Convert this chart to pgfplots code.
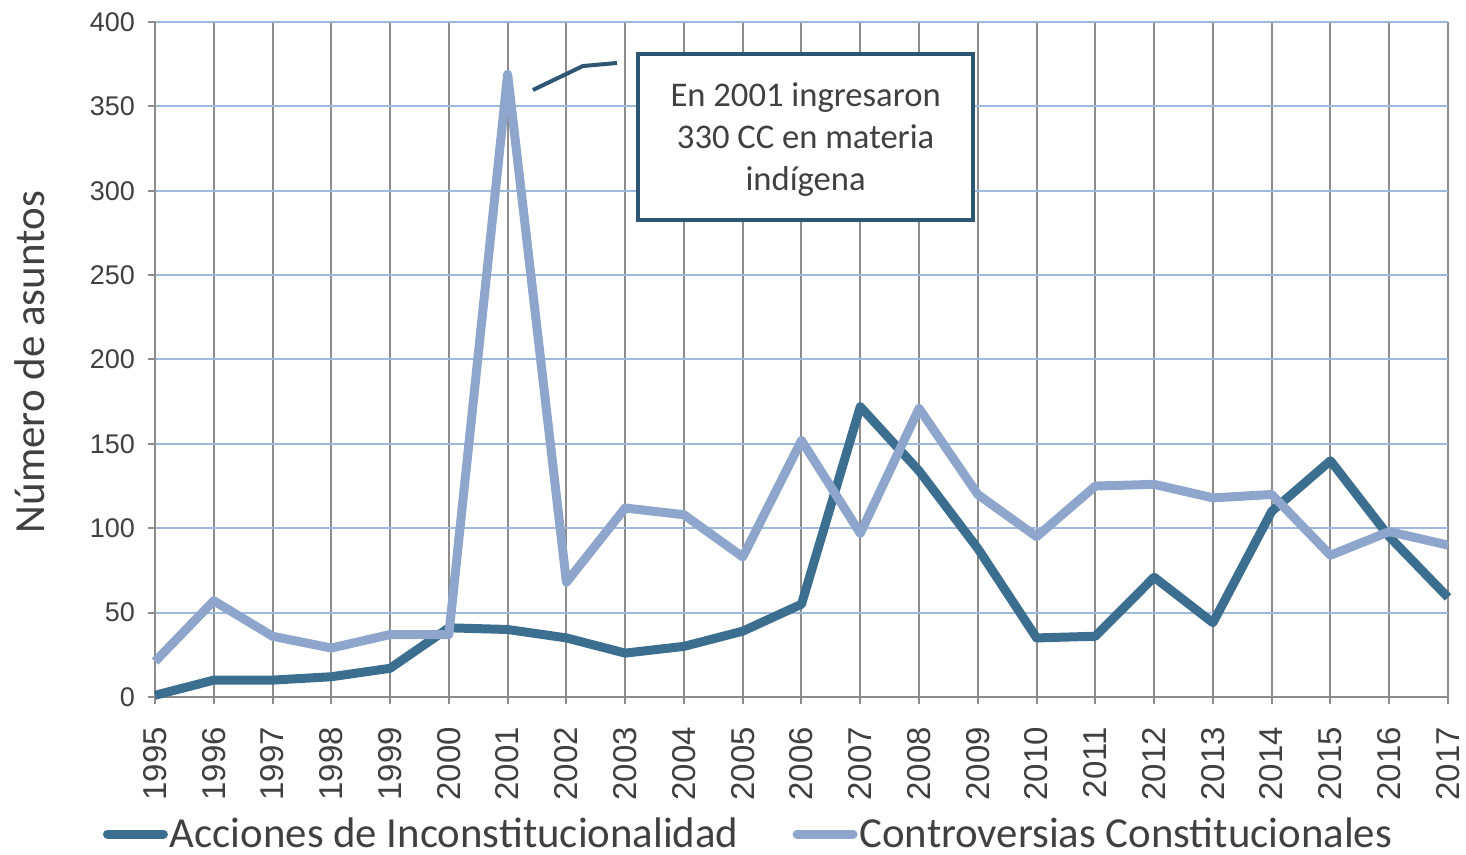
\documentclass[border=0pt]{standalone}
\usepackage{pgfplots}
\pgfplotsset{compat=1.18}
\usepackage{pgfplotstable}
\usepackage{fontspec}
\setmainfont{Liberation Sans}
\newfontfamily\calibri{Carlito}

\definecolor{acc}{HTML}{3C6E8F}
\definecolor{con}{HTML}{8EA6CB}
\definecolor{gridblue}{HTML}{9DB9DC}
\definecolor{gridgray}{HTML}{8C8C8C}
\definecolor{boxblue}{HTML}{2E5672}
\definecolor{txt}{HTML}{404040}

% numero de asuntos por anio
\pgfplotstableread{
year acc con
1995 1   21
1996 10  57
1997 10  36
1998 12  29
1999 17  37
2000 41  37
2001 40  369
2002 35  68
2003 26  112
2004 30  108
2005 39  83
2006 55  152
2007 172 97
2008 134 171
2009 88  120
2010 35  95
2011 36  125
2012 71  126
2013 44  118
2014 110 120
2015 140 84
2016 95  98
2017 59  90
}\asuntos

\begin{document}
\begin{tikzpicture}
\begin{axis}[
  scale only axis, width=646.5pt, height=337.5pt,
  xmin=1995, xmax=2017, ymin=0, ymax=400,
  xtick={1995,...,2017}, ytick={0,50,...,400},
  axis x line=bottom, axis y line=left,
  axis line style={-, gridgray, line width=1pt},
  xmajorgrids, ymajorgrids,
  major x grid style={gridgray, line width=1pt},
  major y grid style={gridblue, line width=1pt},
  tick align=outside, major tick length=3.5pt,
  tick style={gridgray, line width=1pt},
  /pgf/number format/1000 sep={},
  /pgf/number format/assume math mode=true,
  ticklabel style={text=txt},
  yticklabel style={font=\fontsize{13.5}{15}\selectfont},
  yticklabel shift=3pt,
  xticklabel style={rotate=90, anchor=east, font=\fontsize{16.5}{18}\selectfont},
  xticklabel shift=8pt,
  ylabel={Número de asuntos},
  ylabel style={font=\calibri\fontsize{21.5}{24}\selectfont, text=txt,
    at={(axis description cs:-0.0967,0.496)}, anchor=center},
  clip=false,
  legend columns=2,
  legend style={at={(axis description cs:0.459,-0.203)}, anchor=center,
    draw=none, fill=none, font=\calibri\fontsize{21.4}{24}\selectfont, text=txt,
    /tikz/every even column/.append style={column sep=26pt},
    nodes={inner xsep=1pt, inner ysep=1pt}},
  legend image code/.code={\draw[#1, line width=4.5pt, line cap=round] (0pt,0pt) -- (28pt,0pt);},
]
\addplot[acc, line width=4.5pt, line join=round] table[x=year, y=acc] {\asuntos};
\addlegendentry{Acciones de Inconstitucionalidad}
\addplot[con, line width=4.5pt, line join=round] table[x=year, y=con] {\asuntos};
\addlegendentry{Controversias Constitucionales}

\draw[boxblue, line width=2pt] (axis cs:2001.43,359.7) -- (axis cs:2002.28,373.9) -- (axis cs:2002.86,375.7);
\node[draw=boxblue, line width=2pt, fill=white, minimum width=167.5pt, minimum height=83pt]
  at (axis cs:2006.07,331.9) {};
\node[align=center, font=\calibri\fontsize{17.3}{21}\selectfont, text=txt]
  at (axis cs:2006.07,330.4) {En 2001 ingresaron\\330 CC en materia\\indígena};

\coordinate (bl) at (rel axis cs:0,0);
\end{axis}
\pgfresetboundingbox
\path (bl) ++(-77.5pt,-79pt) rectangle ++(733pt,427.5pt);
\end{tikzpicture}
\end{document}
